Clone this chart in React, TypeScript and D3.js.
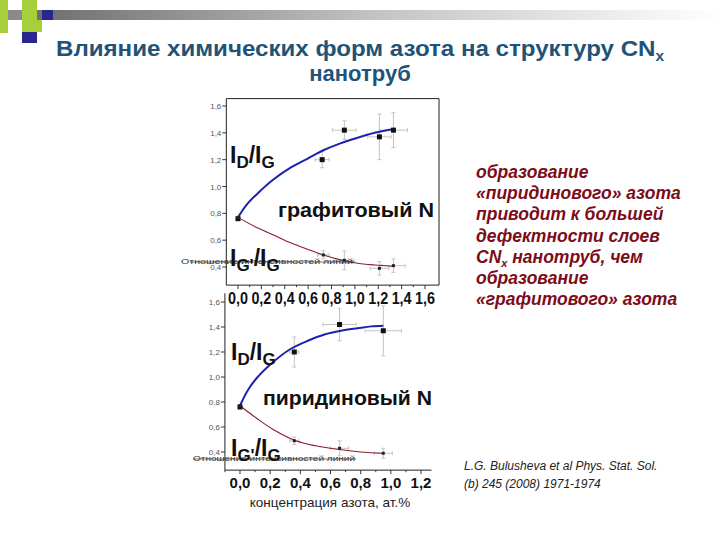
import React from "react";
import * as d3 from "d3";

// ---------- data ----------
const titleLine1 = "Влияние химических форм азота на структуру CN";
const titleLine2 = "нанотруб";

const topTickValues = [0, 0.2, 0.4, 0.6, 0.8, 1.0, 1.2, 1.4, 1.6];
const botTickValues = [0, 0.2, 0.4, 0.6, 0.8, 1.0, 1.2];
const yTickValues = [0.4, 0.6, 0.8, 1.0, 1.2, 1.4, 1.6];

// graphitic N (top panel)
const topIdX = [0, 0.72, 0.91, 1.21, 1.33];
const topIdY = [0.76, 1.2, 1.42, 1.37, 1.42];
const topIdErrX = [0, 0.06, 0.1, 0.1, 0.12];
const topIdErrY = [0, 0.06, 0.07, 0.17, 0.13];
const topIgX = [0, 0.73, 0.91, 1.21, 1.33];
const topIgY = [0.77, 0.49, 0.45, 0.39, 0.41];
const topIgErrX = [0, 0.05, 0.08, 0.08, 0.1];
const topIgErrY = [0, 0.03, 0.07, 0.05, 0.05];
const topFitIdX = [0, 0.08, 0.17, 0.3, 0.45, 0.6, 0.73, 0.87, 1.01, 1.17, 1.34];
const topFitIdY = [0.77, 0.87, 0.95, 1.05, 1.14, 1.21, 1.27, 1.32, 1.36, 1.4, 1.43];
const topFitIgX = [0, 0.17, 0.3, 0.45, 0.6, 0.73, 0.87, 1.01, 1.17, 1.34];
const topFitIgY = [0.77, 0.69, 0.64, 0.58, 0.53, 0.49, 0.455, 0.43, 0.415, 0.405];

// pyridinic N (bottom panel)
const botIdX = [0, 0.36, 0.66, 0.95];
const botIdY = [0.76, 1.2, 1.42, 1.37];
const botIdErrX = [0, 0.03, 0.11, 0.12];
const botIdErrY = [0, 0.12, 0.13, 0.2];
const botIgX = [0, 0.36, 0.66, 0.95];
const botIgY = [0.77, 0.49, 0.43, 0.39];
const botIgErrX = [0, 0.03, 0.06, 0.06];
const botIgErrY = [0, 0.03, 0.06, 0.04];
const botFitIdX = [0, 0.05, 0.11, 0.22, 0.33, 0.45, 0.56, 0.67, 0.78, 0.87, 0.95];
const botFitIdY = [0.77, 0.89, 0.99, 1.12, 1.22, 1.29, 1.34, 1.37, 1.39, 1.405, 1.41];
const botFitIgX = [0, 0.11, 0.22, 0.37, 0.5, 0.66, 0.8, 0.95];
const botFitIgY = [0.77, 0.67, 0.58, 0.49, 0.45, 0.42, 0.4, 0.39];

const sideText = [
  "образование",
  "«пиридинового» азота",
  "приводит к большей",
  "дефектности слоев",
  "CNx нанотруб, чем",
  "образование",
  "«графитового» азота",
];
const citation = ["L.G. Bulusheva et al Phys. Stat. Sol.", "(b) 245 (2008) 1971-1974"];
const xAxisTitle = "концентрация азота,  ат.%";
const yAxisGarbled = "Отношение интенсивностей линий";

const fmt = (v: number) => v.toFixed(1).replace(".", ",");

type Sx = d3.ScaleLinear<number, number>;

function Panel(props: {
  x: Sx;
  y: Sx;
  idX: number[]; idY: number[]; idEx: number[]; idEy: number[];
  igX: number[]; igY: number[]; igEx: number[]; igEy: number[];
  fIdX: number[]; fIdY: number[]; fIgX: number[]; fIgY: number[];
}) {
  const { x, y } = props;
  const line = d3
    .line<[number, number]>()
    .x((d) => x(d[0]))
    .y((d) => y(d[1]))
    .curve(d3.curveCatmullRom);
  const idFit = props.fIdX.map((v, i) => [v, props.fIdY[i]] as [number, number]);
  const igFit = props.fIgX.map((v, i) => [v, props.fIgY[i]] as [number, number]);
  const errs = (xs: number[], ys: number[], ex: number[], ey: number[], key: string) =>
    xs.map((v, i) =>
      ex[i] > 0 || ey[i] > 0 ? (
        <g key={key + i} stroke="#c4c4c4" strokeWidth={1}>
          <line x1={x(v - ex[i])} x2={x(v + ex[i])} y1={y(ys[i])} y2={y(ys[i])} />
          <line x1={x(v)} x2={x(v)} y1={y(ys[i] - ey[i])} y2={y(ys[i] + ey[i])} />
          <line x1={x(v - ex[i])} x2={x(v - ex[i])} y1={y(ys[i]) - 2} y2={y(ys[i]) + 2} />
          <line x1={x(v + ex[i])} x2={x(v + ex[i])} y1={y(ys[i]) - 2} y2={y(ys[i]) + 2} />
          <line x1={x(v) - 2} x2={x(v) + 2} y1={y(ys[i] - ey[i])} y2={y(ys[i] - ey[i])} />
          <line x1={x(v) - 2} x2={x(v) + 2} y1={y(ys[i] + ey[i])} y2={y(ys[i] + ey[i])} />
        </g>
      ) : null
    );
  return (
    <g>
      {errs(props.idX, props.idY, props.idEx, props.idEy, "ide")}
      {errs(props.igX, props.igY, props.igEx, props.igEy, "ige")}
      <path d={line(igFit) || ""} fill="none" stroke="#8a1c2c" strokeWidth={1.1} />
      <path d={line(idFit) || ""} fill="none" stroke="#1c22b0" strokeWidth={2} />
      {props.idX.map((v, i) => (
        <rect key={"idp" + i} x={x(v) - 2.5} y={y(props.idY[i]) - 2.5} width={5} height={5} fill="#111" />
      ))}
      {props.igX.map((v, i) => (
        <rect key={"igp" + i} x={x(v) - 1.5} y={y(props.igY[i]) - 1.5} width={3} height={3} fill="#222" />
      ))}
    </g>
  );
}

function Ratio(props: { x: number; y: number; a: string; b: string }) {
  return (
    <text x={props.x} y={props.y} fontFamily="Liberation Sans, Arial, sans-serif" fontWeight="bold" fill="#111">
      <tspan fontSize={23}>I</tspan>
      <tspan fontSize={17} dy={5}>{props.a}</tspan>
      <tspan fontSize={23} dy={-5}>/I</tspan>
      <tspan fontSize={17} dy={5}>{props.b}</tspan>
    </text>
  );
}

export default function App() {
  const xTop = d3.scaleLinear().domain([0, 1.6]).range([238, 425]);
  const yTop = d3.scaleLinear().domain([0.4, 1.6]).range([267, 106]);
  const xBot = d3.scaleLinear().domain([0, 1.2]).range([240, 421]);
  const yBot = d3.scaleLinear().domain([0.4, 1.6]).range([452, 302]);

  const font = "Liberation Sans, Arial, sans-serif";
  const tL = xTop(-0.1), tR = xTop(1.72), tT = yTop(1.655), tB = yTop(0.265);
  const bL = xBot(-0.1), bR = xBot(1.27), bT = yBot(1.67), bB = yBot(0.255);
  const minorTop = d3.range(0, 1.65, 0.1);
  const minorBot = d3.range(-0.1, 1.25, 0.1);

  return (
    <svg width={720} height={540} style={{ position: "absolute", left: 0, top: 0, background: "#fff" }}>
      <defs>
        <linearGradient id="hdr" x1="0" x2="1" y1="0" y2="0">
          <stop offset="0" stopColor="#6e6e6e" />
          <stop offset="0.5" stopColor="#c4c4c4" />
          <stop offset="1" stopColor="#ffffff" />
        </linearGradient>
      </defs>
      {/* header decoration */}
      <rect x={37} y={10} width={683} height={10} fill="url(#hdr)" />
      <rect x={0} y={0} width={8} height={33} fill="#a6cf3c" />
      <rect x={22} y={0} width={15} height={20} fill="#a6cf3c" />
      <rect x={8} y={10} width={14} height={10} fill="#8a8a8a" />
      <rect x={42} y={10} width={11} height={10} fill="#27278c" />
      <rect x={22} y={20} width={20} height={12} fill="#a6cf3c" />
      <rect x={22} y={32} width={15} height={11} fill="#27278c" />

      {/* title */}
      <text x={56} y={56} fontFamily={font} fontWeight="bold" fontSize={22} fill="#1f5478" textLength={608} lengthAdjust="spacingAndGlyphs">
        {titleLine1}
        <tspan fontSize={14} dy={5}>x</tspan>
      </text>
      <text x={360} y={81} textAnchor="middle" fontFamily={font} fontWeight="bold" fontSize={22} fill="#1f5478">
        {titleLine2}
      </text>

      {/* ---------- top panel ---------- */}
      <g stroke="#222" strokeWidth={1} fill="none">
        <line x1={tL} x2={tR} y1={tT} y2={tT} />
        <line x1={tR} x2={tR} y1={tT} y2={tB} />
        <line x1={tL} x2={tL} y1={tT} y2={tB} />
        <line x1={tL} x2={tR} y1={tB} y2={tB} />
      </g>
      {yTickValues.map((v) => (
        <g key={"ty" + v}>
          <line x1={tL - 4} x2={tL} y1={yTop(v)} y2={yTop(v)} stroke="#333" />
          <text x={tL - 5} y={yTop(v) + 3} textAnchor="end" fontFamily={font} fontSize={8} fill="#555">
            {fmt(v)}
          </text>
        </g>
      ))}
      {minorTop.map((v, i) => (
        <line key={"tx" + i} x1={xTop(v)} x2={xTop(v)} y1={tB} y2={tB + (i % 2 === 0 ? 4 : 2)} stroke="#333" />
      ))}
      {topTickValues.map((v) => (
        <text key={"txl" + v} x={xTop(v) - 10} y={304} fontFamily={font} fontWeight="bold" fontSize={16} fill="#111" textLength={20} lengthAdjust="spacingAndGlyphs">
          {fmt(v)}
        </text>
      ))}
      <Panel
        x={xTop} y={yTop}
        idX={topIdX} idY={topIdY} idEx={topIdErrX} idEy={topIdErrY}
        igX={topIgX} igY={topIgY} igEx={topIgErrX} igEy={topIgErrY}
        fIdX={topFitIdX} fIdY={topFitIdY} fIgX={topFitIgX} fIgY={topFitIgY}
      />
      <Ratio x={230} y={163} a="D" b="G" />
      <text x={181} y={264} fontFamily={font} fontSize={8} fill="#333" textLength={172} lengthAdjust="spacingAndGlyphs">
        {yAxisGarbled}
      </text>
      <line x1={190} x2={355} y1={262} y2={262} stroke="#444" strokeWidth={0.8} />
      <Ratio x={230} y={266} a="G'" b="G" />
      <text x={278} y={217} fontFamily={font} fontWeight="bold" fontSize={21} fill="#111" textLength={156} lengthAdjust="spacingAndGlyphs">
        графитовый N
      </text>

      {/* ---------- bottom panel ---------- */}
      <g stroke="#222" strokeWidth={1}>
        <line x1={bL} x2={bL} y1={bT} y2={bB} />
        <line x1={bL} x2={bR} y1={bB} y2={bB} />
      </g>
      {yTickValues.map((v) => (
        <g key={"by" + v}>
          <line x1={bL - 4} x2={bL} y1={yBot(v)} y2={yBot(v)} stroke="#333" />
          <text x={bL - 5} y={yBot(v) + 3} textAnchor="end" fontFamily={font} fontSize={8} fill="#555">
            {fmt(v)}
          </text>
        </g>
      ))}
      {minorBot.map((v, i) => (
        <line key={"bx" + i} x1={xBot(v)} x2={xBot(v)} y1={bB} y2={bB + (i % 2 === 1 ? 4 : 2)} stroke="#333" />
      ))}
      {botTickValues.map((v) => (
        <text key={"bxl" + v} x={xBot(v)} y={488} textAnchor="middle" fontFamily={font} fontWeight="bold" fontSize={15} fill="#111">
          {fmt(v)}
        </text>
      ))}
      <text x={330} y={507} textAnchor="middle" fontFamily={font} fontSize={13.5} fill="#222">
        {xAxisTitle}
      </text>
      <Panel
        x={xBot} y={yBot}
        idX={botIdX} idY={botIdY} idEx={botIdErrX} idEy={botIdErrY}
        igX={botIgX} igY={botIgY} igEx={botIgErrX} igEy={botIgErrY}
        fIdX={botFitIdX} fIdY={botFitIdY} fIgX={botFitIgX} fIgY={botFitIgY}
      />
      <Ratio x={231} y={360} a="D" b="G" />
      <text x={193} y={461} fontFamily={font} fontSize={8} fill="#333" textLength={162} lengthAdjust="spacingAndGlyphs">
        {yAxisGarbled}
      </text>
      <line x1={193} x2={356} y1={459} y2={459} stroke="#444" strokeWidth={0.8} />
      <Ratio x={231} y={456} a="G'" b="G" />
      <text x={263} y={405} fontFamily={font} fontWeight="bold" fontSize={21} fill="#111" textLength={169} lengthAdjust="spacingAndGlyphs">
        пиридиновый N
      </text>

      {/* ---------- side text ---------- */}
      {sideText.map((s, i) => (
        <text key={"st" + i} x={476} y={178 + i * 21.2} fontFamily={font} fontWeight="bold" fontStyle="italic" fontSize={17.5} fill="#7c0c18">
          {s.startsWith("CNx") ? (
            <>
              CN<tspan fontSize={11} dy={4}>x</tspan>
              <tspan dy={-4}>{s.slice(3)}</tspan>
            </>
          ) : (
            s
          )}
        </text>
      ))}
      {citation.map((s, i) => (
        <text key={"ct" + i} x={464} y={470 + i * 18} fontFamily={font} fontStyle="italic" fontSize={12} fill="#222">
          {s}
        </text>
      ))}
    </svg>
  );
}
